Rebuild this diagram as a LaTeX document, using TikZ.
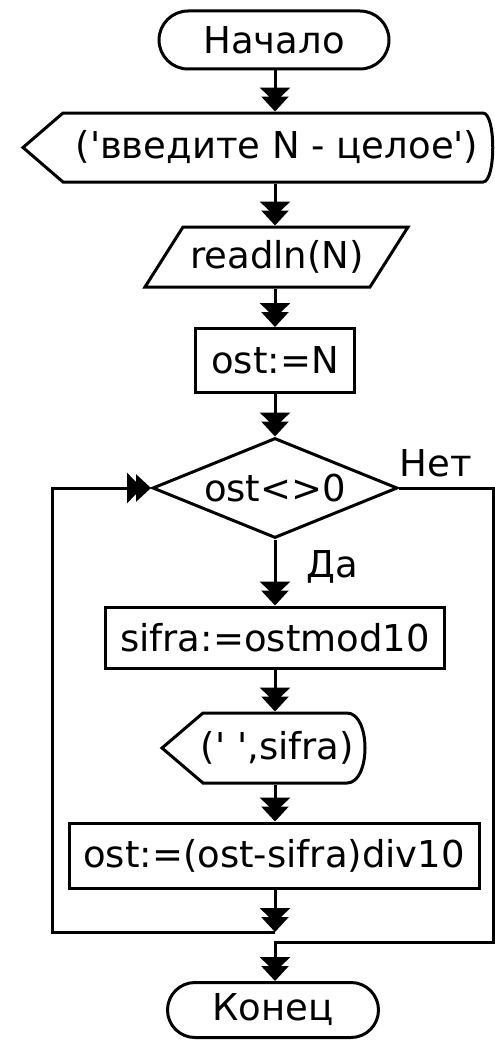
\documentclass[tikz,border=0pt]{standalone}
\usepackage{fontspec}
\setmainfont{DejaVu Sans}[Ligatures=TeXReset]
\usetikzlibrary{shapes.misc}
\usetikzlibrary{shapes.geometric}
\usetikzlibrary{arrows.meta}

\begin{document}
\begin{tikzpicture}[x=1pt,y=-1pt,line width=3pt,
  every node/.style={font=\fontsize{37}{42}\selectfont,inner sep=0pt},
  term/.style={draw,rounded rectangle,minimum width=230pt,minimum height=58pt},
  box/.style={draw,rectangle,minimum height=64pt},
  dec/.style={draw,diamond,aspect=2.45,minimum width=245pt,minimum height=100pt},
  io/.style={draw=none},
  flow/.style={-{Triangle[width=30pt,length=15pt,sep=-6pt]Triangle[width=27pt,length=15pt]}}]
\useasboundingbox (0,0) rectangle (495,1041);

% blocks
\node[term] (start) at (274,40) {Начало};
\node[io,minimum height=69pt] (ask) at (277,147.5) {('введите N - целое')};
\draw (23,147.5) -- (63,113) -- (483,113) .. controls (496,113) and (496,182) .. (483,182) -- (63,182) -- cycle;
\node[io,minimum height=60pt] (rd) at (277,257) {readln(N)};
\draw (183,227) -- (408,227) -- (370,287) -- (145,287) -- cycle;
\node[box,minimum width=159pt] (st) at (275,360.5) {ost:=N};
\node[dec] (cond) at (275,488) {ost<>0};
\node[box,minimum width=339pt,minimum height=61pt] (sf) at (275,637.5) {sifra:=ostmod10};
\node[io,minimum height=70pt] (out) at (277.5,748) {(' ',sifra)};
\draw (162,748) -- (203,713) -- (347,713) .. controls (371,713) and (371,783) .. (347,783) -- (203,783) -- cycle;
\node[box,minimum width=410pt,minimum height=65pt] (dv) at (274,855.5) {ost:=(ost-sifra)div10};
\node[term,minimum width=211pt,minimum height=55pt] (en) at (273,1010) {Конец};

\node (no) at (436,463) {Нет};
\node[anchor=west] (yes) at (305,567) {Да};

\coordinate (join) at (275,932);
\coordinate (back) at (52,488);
\coordinate (exit) at (493,942);

% connectors
\draw[flow] (st |- start.south) -- (st |- ask.north);
\draw[flow] (st |- ask.south) -- (st |- rd.north);
\draw[flow] (st |- rd.south) -- (st.north);
\draw[flow] (st.south) -- (cond.north);
\draw[flow] (cond.south) -- (sf.north);
\draw[flow] (sf.south) -- (sf.south |- out.north);
\draw[flow] (sf.south |- out.south) -- (sf.south |- dv.north);
\draw[flow] (sf.south |- dv.south) -- (join);
\draw[flow] (join) -| (back) -- (cond.west);
\draw[flow] (cond.east) -| (exit) -| (join |- en.north);

\end{tikzpicture}
\end{document}
